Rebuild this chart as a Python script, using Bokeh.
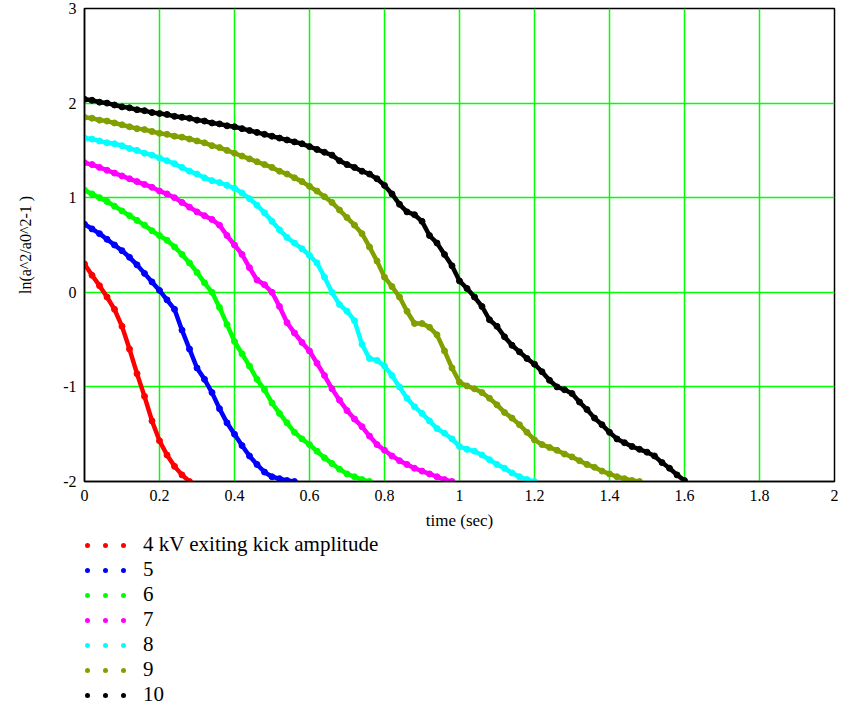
from bokeh.plotting import figure
from bokeh.layouts import column
from bokeh.models import Range1d, FixedTicker, Legend, LegendItem
from bokeh.embed import file_html
from bokeh.resources import INLINE

# ---- data ----
time_s = [0.00, 0.02, 0.04, 0.06, 0.08, 0.10, 0.12, 0.14, 0.16, 0.18,
          0.20, 0.22, 0.24, 0.26, 0.28, 0.30, 0.32, 0.34, 0.36, 0.38,
          0.40, 0.42, 0.44, 0.46, 0.48, 0.50, 0.52, 0.54, 0.56, 0.58,
          0.60, 0.62, 0.64, 0.66, 0.68, 0.70, 0.72, 0.74, 0.76, 0.78,
          0.80, 0.82, 0.84, 0.86, 0.88, 0.90, 0.92, 0.94, 0.96, 0.98,
          1.00, 1.02, 1.04, 1.06, 1.08, 1.10, 1.12, 1.14, 1.16, 1.18,
          1.20, 1.22, 1.24, 1.26, 1.28, 1.30, 1.32, 1.34, 1.36, 1.38,
          1.40, 1.42, 1.44, 1.46, 1.48, 1.50, 1.52, 1.54, 1.56, 1.58,
          1.60]

kv4 = [0.30, 0.18, 0.07, -0.05, -0.18, -0.36, -0.60, -0.86, -1.10, -1.36,
       -1.57, -1.72, -1.84, -1.93, -2.00]

kv5 = [0.72, 0.67, 0.62, 0.56, 0.50, 0.44, 0.37, 0.29, 0.20, 0.11,
       0.02, -0.08, -0.18, -0.40, -0.60, -0.80, -0.92, -1.06, -1.23, -1.38,
       -1.50, -1.62, -1.73, -1.82, -1.90, -1.95, -1.97, -1.99, -2.00]

kv6 = [1.08, 1.04, 1.00, 0.96, 0.91, 0.86, 0.81, 0.76, 0.71, 0.65,
       0.60, 0.55, 0.48, 0.40, 0.31, 0.21, 0.10, 0.00, -0.16, -0.34,
       -0.52, -0.65, -0.78, -0.92, -1.03, -1.17, -1.28, -1.38, -1.48, -1.55,
       -1.61, -1.68, -1.75, -1.81, -1.87, -1.92, -1.95, -1.98, -2.00]

kv7 = [1.37, 1.35, 1.32, 1.29, 1.26, 1.23, 1.20, 1.17, 1.14, 1.11,
       1.07, 1.04, 1.00, 0.95, 0.90, 0.85, 0.81, 0.77, 0.71, 0.60,
       0.50, 0.40, 0.26, 0.13, 0.08, 0.00, -0.15, -0.32, -0.43, -0.53,
       -0.62, -0.75, -0.88, -1.02, -1.14, -1.25, -1.34, -1.42, -1.52, -1.61,
       -1.67, -1.73, -1.78, -1.82, -1.86, -1.89, -1.92, -1.95, -1.98, -2.00]

kv8 = [1.63, 1.62, 1.60, 1.58, 1.57, 1.55, 1.52, 1.50, 1.47, 1.45,
       1.42, 1.39, 1.36, 1.32, 1.28, 1.25, 1.21, 1.18, 1.16, 1.13,
       1.10, 1.05, 0.99, 0.92, 0.84, 0.75, 0.66, 0.58, 0.52, 0.46,
       0.39, 0.31, 0.16, 0.00, -0.13, -0.20, -0.30, -0.55, -0.70, -0.72,
       -0.78, -0.88, -1.00, -1.12, -1.21, -1.28, -1.36, -1.44, -1.49, -1.55,
       -1.63, -1.66, -1.68, -1.72, -1.77, -1.82, -1.86, -1.91, -1.95, -1.98,
       -2.00]

kv9 = [1.85, 1.84, 1.82, 1.81, 1.79, 1.77, 1.75, 1.73, 1.72, 1.70,
       1.68, 1.67, 1.65, 1.64, 1.62, 1.60, 1.58, 1.55, 1.53, 1.50,
       1.47, 1.44, 1.41, 1.38, 1.35, 1.32, 1.28, 1.25, 1.21, 1.17,
       1.12, 1.07, 1.01, 0.95, 0.87, 0.79, 0.71, 0.62, 0.48, 0.33,
       0.16, 0.06, -0.05, -0.20, -0.33, -0.33, -0.37, -0.45, -0.62, -0.80,
       -0.95, -0.99, -1.02, -1.06, -1.12, -1.19, -1.27, -1.33, -1.40, -1.48,
       -1.56, -1.61, -1.64, -1.67, -1.71, -1.74, -1.78, -1.82, -1.85, -1.89,
       -1.92, -1.95, -1.97, -1.99, -2.00]

kv10 = [2.04, 2.03, 2.01, 2.00, 1.98, 1.96, 1.95, 1.93, 1.92, 1.90,
        1.89, 1.88, 1.86, 1.85, 1.84, 1.82, 1.81, 1.79, 1.78, 1.76,
        1.75, 1.73, 1.71, 1.69, 1.67, 1.65, 1.63, 1.61, 1.59, 1.57,
        1.54, 1.51, 1.48, 1.45, 1.39, 1.35, 1.32, 1.28, 1.25, 1.20,
        1.13, 1.04, 0.93, 0.85, 0.82, 0.75, 0.60, 0.52, 0.40, 0.28,
        0.12, 0.04, -0.05, -0.15, -0.29, -0.36, -0.47, -0.56, -0.63, -0.70,
        -0.76, -0.84, -0.93, -1.00, -1.03, -1.07, -1.16, -1.24, -1.33, -1.40,
        -1.48, -1.55, -1.59, -1.63, -1.66, -1.69, -1.73, -1.80, -1.86, -1.93,
        -1.99]

series_labels = ["4 kV exiting kick amplitude", "5", "6", "7", "8", "9", "10"]
series_values = [kv4, kv5, kv6, kv7, kv8, kv9, kv10]
series_colors = ["#ff0000", "#0000ff", "#00ff00", "#ff00ff", "#00ffff", "#80a000", "#000000"]

x_ticks = [0, 0.2, 0.4, 0.6, 0.8, 1.0, 1.2, 1.4, 1.6, 1.8, 2.0]
x_tick_labels = ["0", "0.2", "0.4", "0.6", "0.8", "1", "1.2", "1.4", "1.6", "1.8", "2"]
y_ticks = [-2, -1, 0, 1, 2, 3]
y_tick_labels = ["-2", "-1", "0", "1", "2", "3"]

FONT = "Liberation Serif"

# ---------------- main plot ----------------
p = figure(width=842, height=532, output_backend="svg", toolbar_location=None,
           x_range=Range1d(0, 2), y_range=Range1d(-2, 3),
           min_border_left=78, min_border_right=8, min_border_top=8,
           min_border_bottom=45)

p.background_fill_color = "white"
p.border_fill_color = "white"
p.outline_line_color = "black"
p.outline_line_width = 1.5

p.xgrid.ticker = FixedTicker(ticks=x_ticks)
p.ygrid.ticker = FixedTicker(ticks=y_ticks)
for g in (p.xgrid, p.ygrid):
    g.grid_line_color = "#00ff00"
    g.grid_line_width = 1.5
    g.grid_line_alpha = 1.0

p.xaxis.ticker = FixedTicker(ticks=x_ticks)
p.yaxis.ticker = FixedTicker(ticks=y_ticks)
p.xaxis.major_label_overrides = {t: s for t, s in zip(x_ticks, x_tick_labels)}
p.yaxis.major_label_overrides = {t: s for t, s in zip(y_ticks, y_tick_labels)}
for ax in (p.xaxis, p.yaxis):
    ax.axis_line_color = "black"
    ax.axis_line_width = 1.5
    ax.major_tick_line_color = None
    ax.minor_tick_line_color = None
    ax.major_tick_out = 0
    ax.major_tick_in = 0
    ax.major_label_text_font = FONT
    ax.major_label_text_font_size = "16px"
    ax.major_label_text_color = "black"
    ax.axis_label_text_font = FONT
    ax.axis_label_text_font_style = "normal"
    ax.axis_label_text_color = "black"
p.xaxis.axis_label = "time (sec)"
p.xaxis.axis_label_text_font_size = "17px"
p.xaxis.major_label_standoff = 8
p.xaxis.axis_label_standoff = 7
p.yaxis.axis_label = "ln(a^2/a0^2-1 )"
p.yaxis.axis_label_text_font_size = "16px"
p.yaxis.major_label_standoff = 8
p.yaxis.axis_label_standoff = 26

for vals, col in zip(series_values, series_colors):
    ts = time_s[:len(vals)]
    p.line(ts, vals, line_color=col, line_width=4.5)
    p.scatter(ts, vals, size=6, fill_color=col, line_color=col)

# ---------------- legend strip ----------------
lg = figure(width=842, height=174, output_backend="svg", toolbar_location=None,
            x_range=Range1d(0, 2), y_range=Range1d(-2, 3),
            x_axis_location=None, y_axis_location=None,
            min_border=0, min_border_left=84)
lg.outline_line_color = None
lg.grid.visible = False
lg.background_fill_color = "white"
lg.border_fill_color = "white"

items = []
for label, vals, col in zip(series_labels, series_values, series_colors):
    ts = time_s[:len(vals)]
    r = lg.line(ts, vals, line_color=col, line_width=5, line_dash="0 18",
                line_dash_offset=15, line_cap="round", visible=False)
    items.append(LegendItem(label=label, renderers=[r]))

legend = Legend(items=items, location="top_left", orientation="vertical")
legend.margin = 0
legend.padding = 0
legend.spacing = 0
legend.glyph_width = 42
legend.glyph_height = 20
legend.label_height = 20
legend.label_standoff = 17
legend.label_text_font = FONT
legend.label_text_font_size = "21px"
legend.label_text_color = "black"
legend.border_line_color = None
legend.background_fill_alpha = 0
lg.add_layout(legend)

layout = column(p, lg, spacing=0)
open("out.html", "w").write(file_html(layout, INLINE))
